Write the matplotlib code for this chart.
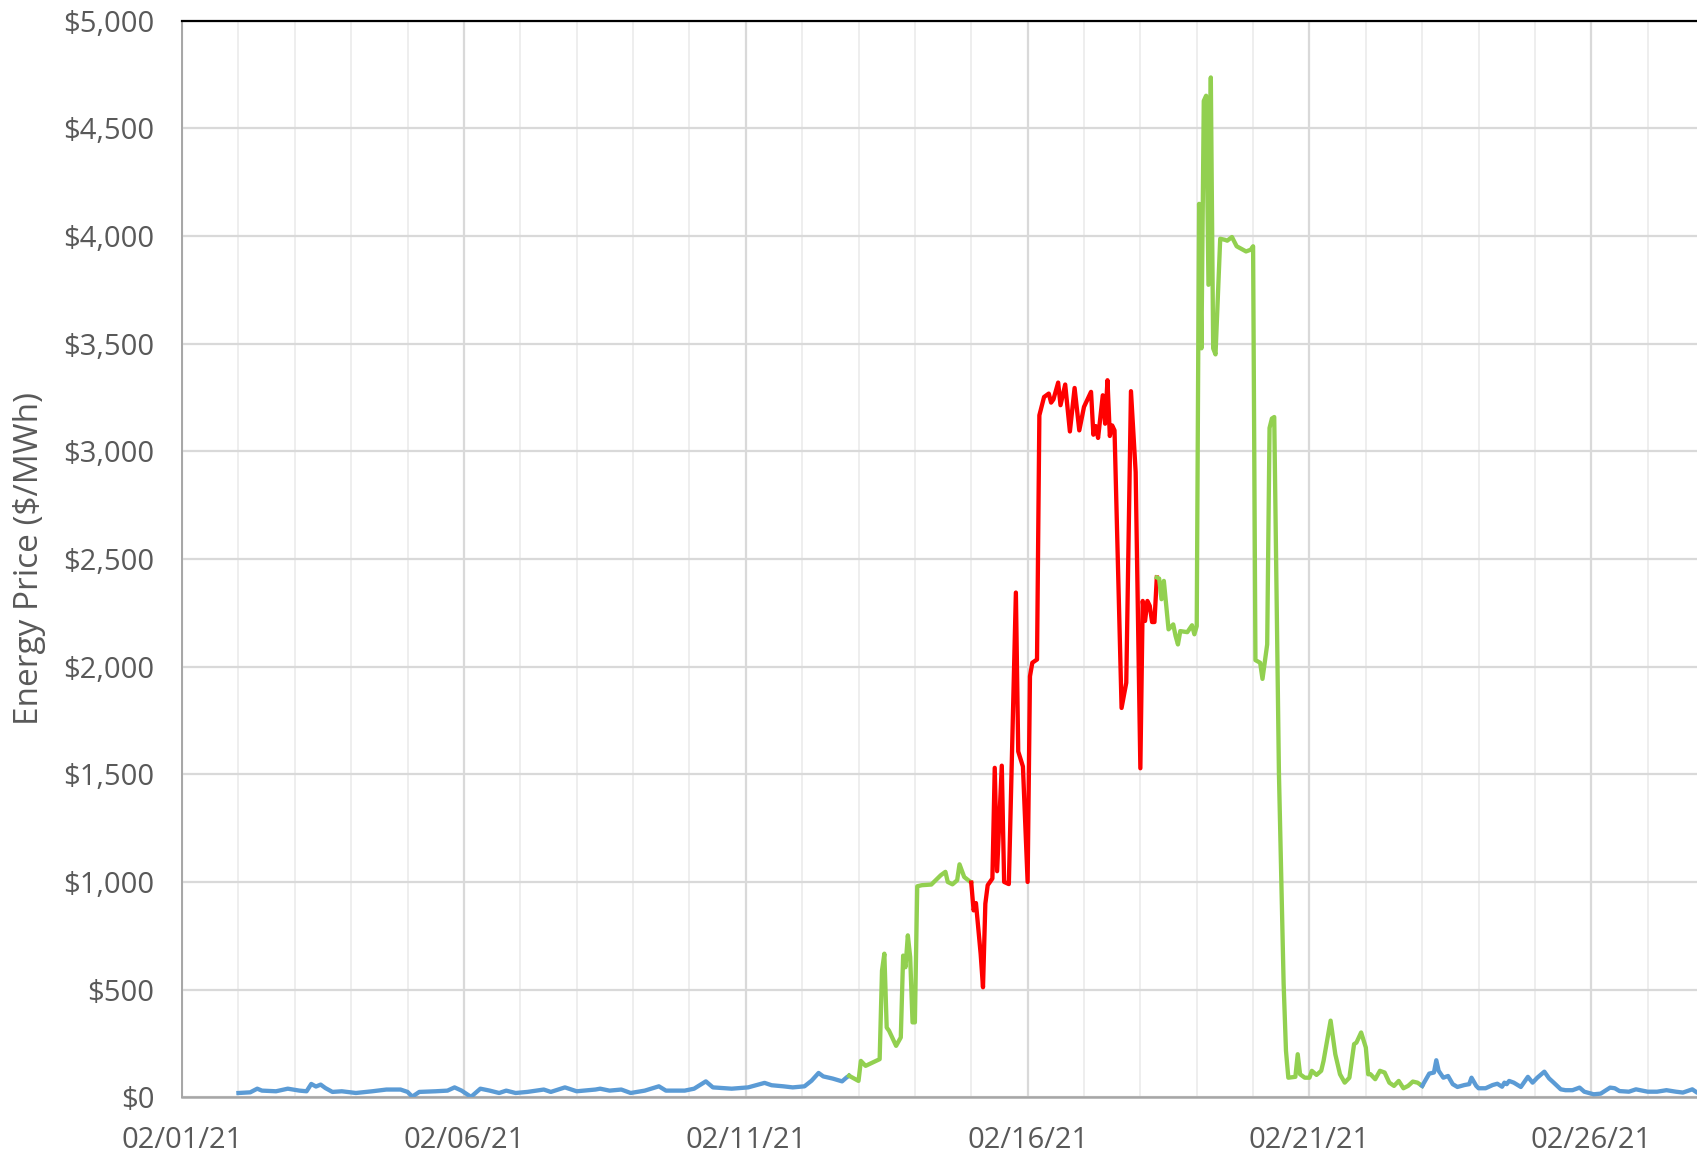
import datetime as dt
import matplotlib
matplotlib.use("Agg")
import matplotlib.pyplot as plt
import matplotlib.dates as mdates
from matplotlib.ticker import MultipleLocator, FuncFormatter

plt.rcParams['font.family'] = ['Open Sans', 'DejaVu Sans']

# hours since 2021-02-01 00:00, price in $/MWh
blue1_hours = [24, 29, 32, 34, 40, 45, 50, 53, 55, 57, 59, 61, 64, 68, 74, 81, 87, 93, 96, 98,
               101, 108, 113, 116, 119, 123, 127, 131, 135, 138, 142, 147, 154, 157, 163, 168,
               176, 178, 182, 187, 191, 197, 203, 206, 214, 218, 223, 226, 234, 241, 248, 251,
               256, 260, 265, 268, 271, 273, 277, 281, 283, 284]
blue1_price = [20, 23, 40, 31, 28, 40, 31, 28, 62, 50, 59, 43, 25, 28, 20, 28, 36, 36, 25, 3,
               25, 28, 31, 46, 31, 2, 40, 31, 20, 31, 20, 25, 36, 25, 46, 28,
               36, 40, 31, 36, 20, 31, 51, 31, 31, 40, 74, 46, 40, 46, 67, 56,
               51, 46, 51, 77, 113, 97, 87, 74, 93, 100]

green1_hours = [284, 288, 289, 291, 297, 298, 299, 300, 301, 304, 306, 307, 308, 309, 310, 311,
                312, 313, 315, 319, 323, 325, 326, 328, 330, 331, 333, 336]
green1_price = [100, 76, 169, 146, 177, 588, 667, 324, 309, 239, 278, 658, 604, 752, 651, 348,
                348, 980, 985, 988, 1031, 1047, 1000, 989, 1008, 1082, 1023, 997]

red_hours = [336, 337, 338, 340, 341, 342, 343, 345, 346, 347, 349, 350, 352, 355, 356, 358,
             360, 361, 362, 364, 365, 367, 369, 370, 371, 373, 374, 376, 378, 380, 382, 384,
             387, 388, 389, 390, 392, 393, 394, 395, 396, 397, 400, 402, 404, 406, 408, 409,
             410, 411, 412, 413, 414, 415]
red_price = [997, 868, 902, 666, 511, 899, 985, 1016, 1530, 1050, 1540, 1000, 990, 2344, 1606, 1536,
             1000, 1955, 2018, 2033, 3167, 3252, 3268, 3226, 3241, 3319, 3214, 3310, 3092, 3294, 3097, 3206,
             3276, 3077, 3117, 3062, 3260, 3128, 3330, 3071, 3120, 3097, 1808, 1925, 3279, 2903, 1528, 2305,
             2212, 2305, 2282, 2207, 2207, 2414]

green2_hours = [415, 416, 417, 418, 420, 422, 423, 424, 425, 428, 430, 431, 432, 433, 434, 435,
                436, 437, 438, 439, 440, 442, 444, 445, 447, 449, 453, 455, 456, 457, 459, 460,
                462, 463, 464, 465, 467, 469, 470, 471, 474, 475, 476, 478, 480, 481, 483, 485,
                486, 489, 491, 493, 495, 497, 499, 500, 502, 504, 505, 506, 508, 510, 512, 514,
                516, 518, 520, 522, 524, 526, 528]
green2_price = [2414, 2409, 2313, 2398, 2173, 2196, 2142, 2103, 2165, 2160, 2192, 2150, 2188, 4149, 3478, 4627,
                4651, 3773, 4736, 3478, 3450, 3987, 3982, 3978, 3995, 3952, 3928, 3936, 3952, 2030, 2018, 1943,
                2103, 3108, 3152, 3159, 1505, 527, 216, 91, 95, 200, 107, 91, 91, 123, 104, 123,
                169, 356, 200, 107, 68, 91, 247, 254, 301, 231, 107, 107, 84, 123, 115, 68,
                53, 76, 42, 53, 73, 68, 53]

blue2_hours = [528, 531, 533, 534, 535, 537, 539, 541, 543, 546, 548, 549, 551, 552, 555, 558,
               560, 562, 563, 564, 565, 567, 570, 573, 575, 577, 580, 582, 584, 587, 589, 592,
               595, 597, 601, 604, 608, 610, 612, 616, 619, 624, 628, 632, 636, 639, 643, 645, 648]
blue2_price = [53, 110, 115, 172, 123, 91, 99, 61, 48, 57, 61, 91, 53, 42, 42, 57,
               63, 49, 68, 61, 76, 68, 48, 95, 68, 91, 119, 88, 68, 37, 33, 33,
               45, 26, 14, 17, 45, 42, 29, 26, 37, 26, 26, 33, 26, 22, 37, 22, 25]

base = dt.datetime(2021, 2, 1)


def to_dates(hours):
    return [base + dt.timedelta(hours=h) for h in hours]


BLUE = '#5b9bd5'
GREEN = '#92d050'
RED = '#ff0000'
TXT = '#595959'

fig = plt.figure(figsize=(16.97, 11.57), dpi=100)
ax = fig.add_axes([0.1073, 0.0516, 0.8927, 0.9306])

lw = 3.1
ax.plot(to_dates(blue1_hours), blue1_price, color=BLUE, lw=lw, solid_joinstyle='round', zorder=3)
ax.plot(to_dates(green1_hours), green1_price, color=GREEN, lw=lw, solid_joinstyle='round', zorder=3)
ax.plot(to_dates(red_hours), red_price, color=RED, lw=lw, solid_joinstyle='round', zorder=3)
ax.plot(to_dates(green2_hours), green2_price, color=GREEN, lw=lw, solid_joinstyle='round', zorder=3)
ax.plot(to_dates(blue2_hours), blue2_price, color=BLUE, lw=lw, solid_joinstyle='round', zorder=3)

ax.set_xlim(base, base + dt.timedelta(days=26.875))
ax.set_ylim(0, 5000)

ax.xaxis.set_major_locator(mdates.DayLocator(bymonthday=[1, 6, 11, 16, 21, 26]))
ax.xaxis.set_minor_locator(mdates.DayLocator())
ax.xaxis.set_major_formatter(mdates.DateFormatter('%m/%d/%y'))
ax.yaxis.set_major_locator(MultipleLocator(500))
ax.yaxis.set_major_formatter(FuncFormatter(lambda v, p: f"${v:,.0f}"))

ax.grid(True, which='major', axis='x', color='#d9d9d9', lw=1.6, zorder=0)
ax.grid(True, which='minor', axis='x', color='#eeeeee', lw=1.4, zorder=0)
ax.grid(True, which='major', axis='y', color='#d9d9d9', lw=1.6, zorder=0)
ax.set_axisbelow(True)

ax.tick_params(axis='both', which='both', length=0, labelsize=21, labelcolor=TXT)
ax.tick_params(axis='x', pad=21)
ax.tick_params(axis='y', pad=20)

ax.set_ylabel('Energy Price ($/MWh)', fontsize=24, color=TXT, labelpad=12)

ax.spines['right'].set_visible(False)
ax.spines['top'].set_color('black')
ax.spines['top'].set_linewidth(1.6)
ax.spines['left'].set_color('#a6a6a6')
ax.spines['left'].set_linewidth(1.4)
ax.spines['bottom'].set_color('#a6a6a6')
ax.spines['bottom'].set_linewidth(1.8)

fig.savefig('out.png', dpi=100)
